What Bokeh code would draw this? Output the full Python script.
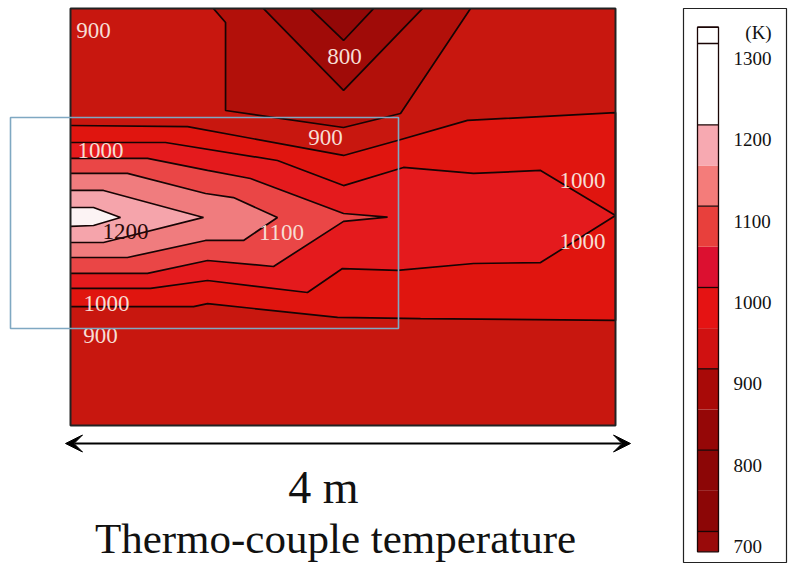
from bokeh.plotting import figure
from bokeh.models import Range1d, Arrow, VeeHead
from bokeh.embed import file_html
from bokeh.resources import INLINE
from bokeh.core.properties import value

# ---------------- data ----------------
# Measured field (metres)
field_w = 4.0
field_h = 3.06

iso_800_x = [1.761, 2.004, 2.224]
iso_800_y = [3.06, 2.826, 3.06]
iso_850_x = [1.417, 2.004, 2.583]
iso_850_y = [3.06, 2.459, 3.06]
iso_900_x = [1.050, 1.138, 1.138, 2.004, 2.422, 2.936]
iso_900_y = [3.06, 2.958, 2.312, 2.187, 2.290, 3.06]

iso_950_x = [0.0, 0.859, 2.004, 2.400, 2.914, 4.0, 4.0, 2.569, 1.960, 1.006, 0.903, 0.0]
iso_950_y = [2.202, 2.194, 1.982, 2.092, 2.239, 2.297, 0.771, 0.785, 0.793, 0.895, 0.873, 0.873]
iso_1000_x = [0.0, 0.697, 1.519, 2.004, 2.444, 2.958, 3.450, 4.0, 3.450, 2.958, 2.400, 1.996,
              1.739, 1.006, 0.587, 0.0]
iso_1000_y = [2.077, 2.077, 1.945, 1.761, 1.894, 1.850, 1.872, 1.541, 1.196, 1.189, 1.138, 1.152,
              0.976, 1.064, 1.006, 1.006]
iso_1050_x = [0.0, 0.565, 1.006, 1.321, 2.004, 2.327, 2.004, 1.490, 1.006, 0.565, 0.0]
iso_1050_y = [1.960, 1.960, 1.872, 1.813, 1.556, 1.530, 1.498, 1.167, 1.211, 1.116, 1.116]
iso_1100_x = [0.0, 0.418, 0.991, 1.196, 1.519, 1.270, 0.991, 0.418, 0.0]
iso_1100_y = [1.850, 1.850, 1.703, 1.673, 1.527, 1.358, 1.358, 1.233, 1.233]
iso_1150_x = [0.0, 0.242, 0.976, 0.242, 0.0]
iso_1150_y = [1.725, 1.725, 1.527, 1.343, 1.343]
iso_1200_x = [0.0, 0.169, 0.367, 0.169, 0.0]
iso_1200_y = [1.600, 1.600, 1.527, 1.468, 1.461]

# Temperature labels on the map
label_text = ["900", "800", "900", "1000", "1200", "1100", "1000", "1000", "1000", "900"]
label_x = [0.169, 2.011, 1.872, 0.220, 0.404, 1.549, 3.758, 3.758, 0.264, 0.220]
label_y = [2.899, 2.708, 2.114, 2.018, 1.424, 1.417, 1.798, 1.350, 0.895, 0.661]

# Colour scale (K)
cb_lo = [675, 700, 750, 800, 850, 900, 950, 1000, 1050, 1100, 1150, 1200, 1300]
cb_hi = [700, 750, 800, 850, 900, 950, 1000, 1050, 1100, 1150, 1200, 1300, 1320]
cb_colors = ["#990a0a", "#8c0606", "#8c0606", "#950707", "#a80a08", "#d01111", "#e51313",
             "#dc1030", "#e8403c", "#f47c7a", "#f7a9b1", "#ffffff", "#ffffff"]
cb_ticks = [700, 800, 900, 1000, 1100, 1200, 1300]

# Band fill colours on the map (lower bound of each band)
band_color = {
    750: "#930807", 800: "#a00b08", 850: "#b2100a", 900: "#c8170f", 950: "#e0150f",
    1000: "#e41a1d", 1050: "#ea4646", 1100: "#f07c7e", 1150: "#f5a4ab", 1200: "#fcf3f4",
}

# ---------------- figure ----------------
W, H = 788, 565
ppm = 545 / field_w          # pixels per metre on the map
x0_px, y0_px = 70, 425       # map origin on the canvas

p = figure(width=W, height=H, output_backend="svg", toolbar_location=None,
           x_range=Range1d(-x0_px / ppm, (W - x0_px) / ppm),
           y_range=Range1d(-(H - y0_px) / ppm, y0_px / ppm),
           min_border=0, outline_line_color=None,
           background_fill_color="white", border_fill_color="white")
p.xaxis.visible = False
p.yaxis.visible = False
p.grid.visible = False

serif = value("Liberation Serif")

# background band
p.quad(left=0, right=field_w, bottom=0, top=field_h,
       fill_color=band_color[900], line_color=None)

# cold pocket at the top
for xs, ys, lvl in [(iso_900_x, iso_900_y, 850), (iso_850_x, iso_850_y, 800),
                    (iso_800_x, iso_800_y, 750)]:
    p.patch(xs, ys, fill_color=band_color[lvl], line_color=None)

# hot core, nested from outside in
hot = [(iso_950_x, iso_950_y, 950), (iso_1000_x, iso_1000_y, 1000),
       (iso_1050_x, iso_1050_y, 1050), (iso_1100_x, iso_1100_y, 1100),
       (iso_1150_x, iso_1150_y, 1150), (iso_1200_x, iso_1200_y, 1200)]
for xs, ys, lvl in hot:
    p.patch(xs, ys, fill_color=band_color[lvl], line_color=None)

# isotherm lines
for xs, ys in [(iso_800_x, iso_800_y), (iso_850_x, iso_850_y), (iso_900_x, iso_900_y)] + \
              [(h[0], h[1]) for h in hot]:
    p.line(xs, ys, line_color="#160404", line_width=1.7)

# map frame
p.quad(left=0, right=field_w, bottom=0, top=field_h,
       fill_color=None, line_color="#222222", line_width=2)

# labels
lab_colors = ["#2a0808" if t == "1200" else "#f7ddd4" for t in label_text]
p.text(x=label_x, y=label_y, text=label_text, text_color=lab_colors,
       text_font=serif, text_font_size="23px", text_align="center",
       text_baseline="middle")

# highlighted window
p.quad(left=-60 / ppm, right=328 / ppm, bottom=97 / ppm, top=308 / ppm,
       fill_color=None, line_color="#7fa8c2", line_width=1.6)

# 4 m scale arrow
p.add_layout(Arrow(start=VeeHead(size=17, fill_color="black", line_color="black"),
                   end=VeeHead(size=17, fill_color="black", line_color="black"),
                   x_start=-5 / ppm, y_start=-18 / ppm, x_end=560 / ppm, y_end=-18 / ppm,
                   line_color="black", line_width=2))
p.text(x=[253 / ppm], y=[-62 / ppm], text=["4 m"], text_font=serif,
       text_font_size="46px", text_align="center", text_baseline="middle",
       text_color="#111111")
p.text(x=[265 / ppm], y=[-113 / ppm], text=["Thermo-couple temperature"],
       text_font=serif, text_font_size="43px", text_align="center",
       text_baseline="middle", text_color="#111111")

# ---------------- colour scale panel ----------------
kpp = 0.8133  # pixels per kelvin in the scale
p.extra_x_ranges = {"cbx": Range1d(0, W)}
p.extra_y_ranges = {"cbk": Range1d(1300 - (H - 43) / kpp, 1300 + 43 / kpp)}
k_top = 1300 + 43 / kpp

p.quad(left=683, right=786, bottom=k_top - 562 / kpp, top=k_top - 8 / kpp,
       fill_color="white", line_color="#222222", line_width=1.2,
       x_range_name="cbx", y_range_name="cbk")
p.quad(left=697, right=718, bottom=cb_lo, top=cb_hi, fill_color=cb_colors,
       line_color=None, x_range_name="cbx", y_range_name="cbk")
p.segment(x0=697, x1=718, y0=cb_ticks + [1320], y1=cb_ticks + [1320],
          line_color="#1a0505", line_width=1.3, x_range_name="cbx", y_range_name="cbk")
p.quad(left=697, right=718, bottom=min(cb_lo), top=max(cb_hi), fill_color=None,
       line_color="#1a0505", line_width=1.3, x_range_name="cbx", y_range_name="cbk")
p.text(x=733, y=cb_ticks, text=[str(t) for t in cb_ticks], y_offset=15,
       text_font=serif, text_font_size="19px", text_align="left",
       text_baseline="middle", text_color="#111111",
       x_range_name="cbx", y_range_name="cbk")
p.text(x=[758], y=[1314], text=["(K)"], text_font=serif, text_font_size="19px",
       text_align="center", text_baseline="middle", text_color="#111111",
       x_range_name="cbx", y_range_name="cbk")

open("out.html", "w").write(file_html(p, INLINE))
